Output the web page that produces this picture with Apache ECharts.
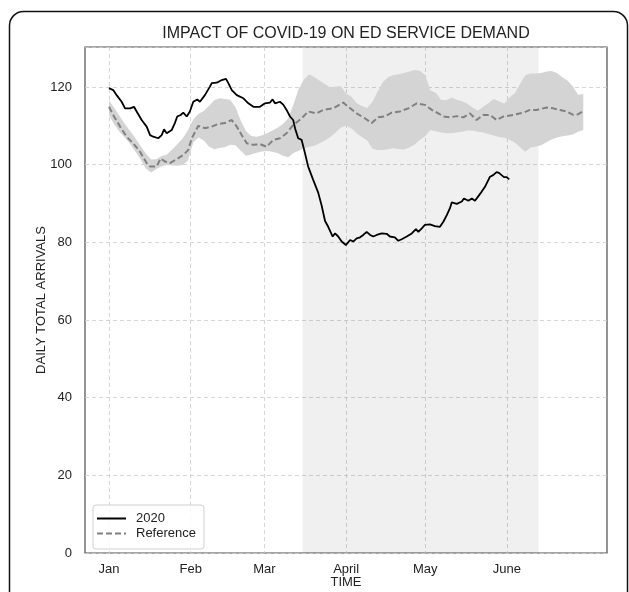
<!DOCTYPE html>
<html>
<head>
<meta charset="utf-8">
<script src="https://cdn.jsdelivr.net/npm/echarts@6/dist/echarts.min.js"></script>
<style>
html,body{margin:0;padding:0;background:#fff;}
#chart{width:629px;height:592px;}
</style>
</head>
<body>
<div id="chart"></div>
<script>
// Day of year (0 = 1 Jan) for month ticks and their labels
const tickDays = [0, 31, 59, 90, 120, 151];
const tickLabels = ['Jan', 'Feb', 'Mar', 'April', 'May', 'June'];

// Shaded period (day of year)
const shadeSpan = [73.5, 163];

// 2020 daily arrivals (smoothed)
const days2020 = [0,1.6,2.9,4.8,6.1,8,9.5,10.5,12.4,14.3,15.6,16.8,18.7,20,20.9,21.9,23.8,25,25.9,27.2,28.2,29.5,30.7,32,33.5,34.5,36.4,38.3,39,40.9,42.8,44.4,45.3,46.6,48.5,51,52.9,54.8,57.3,59.2,61.1,62.1,63,64.9,66.2,67.4,68.7,69.9,70.6,71.8,73.1,74.4,75.6,77.5,79.4,80.7,82,83.2,84.9,85.8,87,88.3,89.9,91.5,92.7,94,95.3,96.5,97.8,99.1,100.3,101.6,103.5,105.4,106.6,108.5,109.8,111.1,113,114.9,116.5,117.4,118.7,119.9,121.8,123.7,125.6,126.3,126.9,128.2,129.4,130.1,132,133.9,134.7,136.4,137.7,138.9,140.2,141.4,142.7,144.6,145.8,147.1,148,149,149.9,150.9,151.9];
const vals2020 = [119.7,119.2,117.9,116.2,114.5,114.5,114.9,113.7,111.5,109.8,107.6,107.2,106.8,107.6,109.1,108.1,108.9,110.7,112.4,112.8,113.4,112.4,113.7,116.2,116.8,116.2,117.9,120.1,121,121.1,121.8,122.1,121,119.2,117.9,117.1,115.8,114.9,114.9,115.8,116,116.8,115.8,116.2,115.4,114.1,112.4,111.5,109.4,106.8,106.4,102.9,99.5,96.1,92.8,89.5,85.5,84,81.5,82.3,81.5,80.2,79.3,80.6,80.2,81,81.3,81.9,82.7,81.9,81.5,81.9,82.3,82.2,81.5,81.3,80.4,80.8,81.5,82.3,83.4,82.7,83.6,84.5,84.6,84.2,84,83.6,85.3,87,88.8,90.3,89.9,90.5,91.3,90.7,91.3,90.7,91.9,93,94.3,96.9,97.3,98.1,97.9,97.3,96.8,96.8,96.2];

// Reference (mean of previous years)
const refDays = [0,1.6,4.2,6.7,9.2,11.8,14.3,15.6,18.1,19.6,21.3,23.1,25.7,28.2,30.1,31.4,33.9,36.4,39,41.5,44,46.6,48.5,50.4,52.3,54.8,57.3,59.8,62.4,64.9,67.4,69.9,73.1,75.6,78.8,81.3,85.1,88.9,90.8,94,97.2,99.7,102.2,104.7,107.3,110.4,113.6,116.8,119.9,122.5,125,126.9,129.4,132,134.5,137,139.5,142,144.6,147.1,149.6,153.4,157.2,159.8,162.3,166.1,168.6,171.2,173.7,176.2,178.1,179.8];
const refVals = [114.9,112.8,109.8,107.2,105.5,103.3,100.4,99.5,99.5,101.6,100.8,100.4,101.4,102.5,103.8,106.8,110,109.4,109.8,110.5,110.7,111.5,109.8,107.6,105.5,105.1,105.3,104.6,106.4,106.8,108.1,110.2,111.9,113.7,113.2,114.1,114.5,116,114.9,113.2,111.9,110.7,112.2,112.4,113.4,113.7,114.5,115.8,115.4,114.1,113.2,112.4,112.2,112.5,112.2,113.2,111.5,112.8,112.8,111.5,112.4,112.8,113.4,114.1,114.1,114.7,114.5,114.1,113.7,112.8,113,113.7];

// Reference band (min / max)
const bandDays = [0,2,4,6,8,10,12,14,16,18,20,22,24,26,28,30,32,34,36,38,40,42,44,46,48,50,52,54,56,58,60,62,64,66,68,70,72,74,76,78,80,82,84,86,88,90,92,94,96,98,100,102,104,106,108,110,112,114,116,118,120,122,124,126,128,130,132,134,136,138,140,142,144,146,148,150,152,154,156,158,160,162,164,166,168,170,172,174,176,178,180];
const bandUpper = [116.6,114.6,112.5,110.5,108.7,106.8,104.8,102.9,101.3,101.4,102.2,102.6,103.9,105.3,106.8,108.9,111.6,113.1,113.8,115.2,116.6,117.1,116.9,116.7,114.8,111.4,108.7,107.4,107.2,107.5,108.1,108.8,109.5,110.5,111.9,115.5,119.5,121.9,123.3,122.5,121.6,120.7,119.9,120.1,120.2,118.3,117.5,115.8,115.1,114.6,116.2,118.9,121.3,122.6,123.1,123.3,123.6,124,124.4,124.2,123,119.1,118.5,116.7,116.6,117.3,116.7,116.3,115.7,114.7,113.9,114.9,115.9,116.9,116.3,115.7,117.3,118.4,120.8,123,123.5,123.5,123.6,124,124.1,123.6,122.5,121.7,120.2,118,118.2];
const bandLower = [112.8,110.4,108.5,107,105.4,103.4,101.4,99,98,98.9,99.6,99.9,99.8,99.7,99.9,101.1,105.8,107,106.2,104.6,104,104.3,104.5,105.1,105,103.6,102.3,102.6,103.1,103.4,103.5,103.3,103,102.3,101.9,103,103.6,104.3,104.6,104.9,105.6,106.2,107.1,108.3,109.6,110,109.4,108,107.1,106.2,104.1,103.8,103.8,104,104.2,104,103.9,104.4,105.2,106.4,107.3,108.9,108.6,108.3,108.1,108.1,108.3,108.5,108.8,108.8,108.5,108.3,107.9,107.5,107.1,106.9,106.4,105.7,104.5,103.3,104.4,104.7,105,105.8,106.5,107,107.3,107.5,107.8,108.5,108.9];

const FONT = 'Liberation Sans, Arial, sans-serif';
const zip = (xs, ys) => xs.map((x, i) => [x, ys[i]]);

const chart = echarts.init(document.getElementById('chart'), null, {renderer: 'canvas'});
chart.setOption({
  animation: false,
  backgroundColor: '#fff',
  textStyle: {fontFamily: FONT},
  grid: {
    left: 85, right: 22, top: 47, bottom: 39,
    outerBoundsMode: 'none', containLabel: false,
    show: true, borderColor: '#4d4d4d', borderWidth: 1.2, backgroundColor: 'transparent'
  },
  graphic: [
    {type: 'rect', silent: true, z: 100,
      shape: {x: 9.5, y: 11.5, width: 618, height: 620, r: 14},
      style: {fill: null, stroke: '#111', lineWidth: 1.5}},
    {type: 'text', silent: true, x: 346, y: 34,
      style: {text: 'IMPACT OF COVID-19 ON ED SERVICE DEMAND', font: '16px ' + FONT,
        fill: '#222', textAlign: 'center', textVerticalAlign: 'middle'}}
  ],
  legend: {
    data: ['2020', 'Reference'],
    orient: 'vertical',
    left: 93, top: 505,
    padding: [7, 8, 9, 3],
    itemGap: 2,
    itemWidth: 29, itemHeight: 14,
    backgroundColor: 'rgba(255,255,255,0.85)',
    borderColor: '#d0d0d0', borderWidth: 1, borderRadius: 3,
    itemStyle: {opacity: 0, borderWidth: 0},
    textStyle: {fontSize: 13, color: '#222', fontFamily: FONT, padding: [0, 0, 0, 5]}
  },
  xAxis: {
    type: 'value',
    min: -9.1, max: 189,
    name: 'TIME', nameLocation: 'middle', nameGap: 23, nameMoveOverlap: false,
    nameTextStyle: {fontSize: 13, color: '#222', fontFamily: FONT},
    axisLine: {show: false},
    axisTick: {show: false, customValues: tickDays},
    axisLabel: {customValues: tickDays, fontSize: 13, color: '#222', margin: 10, fontFamily: FONT,
      formatter: v => tickLabels[tickDays.indexOf(Math.round(v))] || ''},
    splitLine: {show: true, lineStyle: {color: '#cccccc', width: 0.8, type: [4, 3]}}
  },
  yAxis: {
    type: 'value',
    min: 0, max: 130.3, interval: 20,
    name: 'DAILY TOTAL ARRIVALS', nameLocation: 'middle', nameGap: 37, nameMoveOverlap: false,
    nameTextStyle: {fontSize: 13, color: '#222', fontFamily: FONT},
    axisLine: {show: false},
    axisTick: {show: false},
    axisLabel: {fontSize: 13, color: '#222', margin: 13, fontFamily: FONT, showMaxLabel: false,
      formatter: v => (v % 20 === 0 ? String(v) : '')},
    splitLine: {show: true, lineStyle: {color: '#cccccc', width: 0.8, type: [4, 3]}}
  },
  series: [
    {
      name: 'shade', type: 'line', data: [], silent: true, z: 1,
      markArea: {silent: true, itemStyle: {color: 'rgba(0,0,0,0.06)'},
        data: [[{xAxis: shadeSpan[0]}, {xAxis: shadeSpan[1]}]]}
    },
    {
      name: 'band', type: 'custom', silent: true, z: 2,
      data: bandDays.map((d, i) => [d, bandLower[i], bandUpper[i]]),
      encode: {x: 0, y: [1, 2]},
      renderItem: (params, api) => {
        if (params.dataIndex !== 0) return null;
        const pts = [];
        for (let i = 0; i < bandDays.length; i++) pts.push(api.coord([bandDays[i], bandUpper[i]]));
        for (let i = bandDays.length - 1; i >= 0; i--) pts.push(api.coord([bandDays[i], bandLower[i]]));
        return {type: 'polygon', shape: {points: pts}, style: {fill: '#d4d4d4'}};
      }
    },
    {
      name: 'Reference', type: 'line', symbol: 'none', z: 3,
      lineStyle: {color: '#808080', width: 2, type: [6, 3]},
      itemStyle: {color: '#808080'},
      data: zip(refDays, refVals)
    },
    {
      name: '2020', type: 'line', symbol: 'none', z: 4,
      lineStyle: {color: '#000', width: 1.8},
      itemStyle: {color: '#000'},
      data: zip(days2020, vals2020)
    }
  ]
});
</script>
</body>
</html>
